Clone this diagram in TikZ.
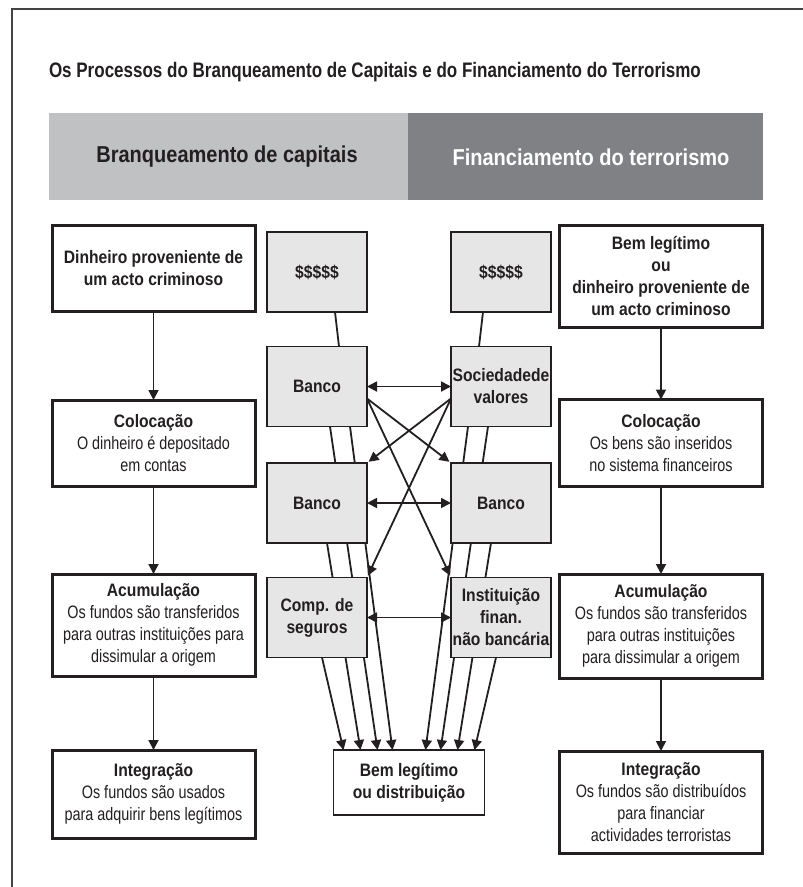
\documentclass[tikz,border=0pt]{standalone}
\usepackage{fontspec}
\setmainfont{Liberation Sans}[FakeStretch=0.8]
\newfontfamily\bcnfam{Liberation Sans}[FakeStretch=0.87]
\newfontfamily\tcnfam{Liberation Sans}[FakeStretch=0.81]
\newcommand{\bcn}{\bcnfam\bfseries}
\newcommand{\tcn}{\tcnfam\bfseries}
\usetikzlibrary{arrows.meta}
\pgfdeclarelayer{background}
\pgfsetlayers{background,main}
\definecolor{ink}{HTML}{231F20}
\definecolor{lightband}{HTML}{C0C1C3}
\definecolor{darkband}{HTML}{808185}
\definecolor{midfill}{HTML}{E6E6E6}
\definecolor{framecol}{HTML}{444444}
\begin{document}
\begin{tikzpicture}[x=1pt,y=-1pt,
  every node/.style={inner sep=0pt, outer sep=0pt, text=ink, align=center},
  stagebox/.style={draw=ink, line width=3pt, fill=white, minimum width=203pt, font=\fontsize{18}{22}\selectfont},
  midbox/.style={draw=ink, line width=1.5pt, fill=midfill, minimum width=100pt, minimum height=80pt, font=\bcn\fontsize{18}{22}\selectfont},
  endbox/.style={draw=ink, line width=1.5pt, fill=white, minimum width=151pt, minimum height=65pt, font=\bcn\fontsize{18}{22}\selectfont},
  flowarrow/.style={draw=ink, line width=1.8pt, -{Triangle[length=10pt,width=10pt]}},
  twoway/.style={draw=ink, line width=1.8pt, {Triangle[length=10pt,width=10pt]}-{Triangle[length=10pt,width=10pt]}},
  link/.style={draw=ink, line width=1.8pt}
]
\useasboundingbox (0,0) rectangle (803,887);
% frame
\draw[framecol, line width=1.6pt] (12,887) -- (12,9) -- (803,9);
% title
\node[anchor=base west, font=\tcn\fontsize{21}{24}\selectfont] (title) at (49,77) {Os Processos do Branqueamento de Capitais e do Financiamento do Terrorismo};
% band
\fill[lightband] (49,113) rectangle (408,200);
\fill[darkband] (408,113) rectangle (763,200);
\node[font=\bcn\fontsize{23}{26}\selectfont] (hleft) at (227,157) {Branqueamento de capitais};
\node[font=\bcn\fontsize{23}{26}\selectfont, text=white] (hright) at (591,157) {Financiamento do terrorismo};
% left column
\node[stagebox, minimum height=86pt, font=\bcn\fontsize{18}{22}\selectfont] (L1) at (153.5,268) {Dinheiro proveniente de\\um acto criminoso};
\node[stagebox, minimum height=86pt] (L2) at (153.5,443) {{\bcn Colocação}\\O dinheiro é depositado\\em contas};
\node[stagebox, minimum height=102pt] (L3) at (153.5,625) {{\bcn Acumulação}\\Os fundos são transferidos\\para outras instituições para\\dissimular a origem};
\node[stagebox, minimum height=88pt] (L4) at (153.5,794) {{\bcn Integração}\\Os fundos são usados\\para adquirir bens legítimos};
% right column
\node[stagebox, minimum height=102pt, font=\bcn\fontsize{18}{22}\selectfont] (R1) at (661,276) {Bem legítimo\\ou\\dinheiro proveniente de\\um acto criminoso};
\node[stagebox, minimum height=87pt] (R2) at (661,443) {{\bcn Colocação}\\Os bens são inseridos\\no sistema financeiros};
\node[stagebox, minimum height=104pt] (R3) at (661,626) {{\bcn Acumulação}\\Os fundos são transferidos\\para outras instituições\\para dissimular a origem};
\node[stagebox, minimum height=102pt] (R4) at (661,802) {{\bcn Integração}\\Os fundos são distribuídos\\para financiar\\actividades terroristas};
% middle boxes
\node[midbox] (m1l) at (317,272) {\$\$\$\$\$};
\node[midbox] (m2l) at (317,386.5) {Banco};
\node[midbox] (m3l) at (317,503) {Banco};
\node[midbox] (m4l) at (317,617.5) {Comp. de\\seguros};
\node[midbox] (m1r) at (501,272) {\$\$\$\$\$};
\node[midbox] (m2r) at (501,386.5) {Sociedadede\\valores};
\node[midbox] (m3r) at (501,503) {Banco};
\node[midbox] (m4r) at (501,617.5) {Instituição\\finan.\\não bancária};
\node[endbox] (endb) at (409,782.5) {Bem legítimo\\ou distribuição};
% vertical flows
\draw[flowarrow] (L1) -- (L2);
\draw[flowarrow] (L2) -- (L3);
\draw[flowarrow] (L3) -- (L4);
\draw[flowarrow] (R1) -- (R2);
\draw[flowarrow] (R2) -- (R3);
\draw[flowarrow] (R3) -- (R4);
% lines behind the grey boxes
\begin{pgfonlayer}{background}
\draw[link] ([xshift=18pt]m1l.south) -- ([xshift=22pt]m2l.north);
\draw[link] ([xshift=-18pt]m1r.south) -- ([xshift=-22pt]m2r.north);
\draw[flowarrow] ([xshift=5pt]m4l.south) -- ([xshift=-65.5pt]endb.north);
\draw[flowarrow] ([xshift=10pt]m3l.south) -- ([xshift=-48.5pt]endb.north);
\draw[flowarrow] ([xshift=13pt]m2l.south) -- ([xshift=-31.5pt]endb.north);
\draw[flowarrow] ([xshift=33pt]m2l.south) -- ([xshift=-16.5pt]endb.north);
\draw[flowarrow] ([xshift=-5pt]m4r.south) -- ([xshift=65.5pt]endb.north);
\draw[flowarrow] ([xshift=-10pt]m3r.south) -- ([xshift=48.5pt]endb.north);
\draw[flowarrow] ([xshift=-13pt]m2r.south) -- ([xshift=31.5pt]endb.north);
\draw[flowarrow] ([xshift=-33pt]m2r.south) -- ([xshift=16.5pt]endb.north);
\end{pgfonlayer}
% horizontal two-way arrows
\draw[twoway] (m2l.east) -- (m2r.west);
\draw[twoway] (m3l.east) -- (m3r.west);
\draw[twoway] (m4l.east) -- (m4r.west);
% crossing arrows
\draw[flowarrow, shorten >=2pt] ([yshift=-12pt]m2l.east) -- (m3r.north west);
\draw[flowarrow, shorten >=2pt] ([yshift=-12pt]m2l.east) -- (m4r.north west);
\draw[flowarrow, shorten >=2pt] ([yshift=-12pt]m2r.west) -- (m3l.north east);
\draw[flowarrow, shorten >=2pt] ([yshift=-12pt]m2r.west) -- (m4l.north east);
\end{tikzpicture}
\end{document}
